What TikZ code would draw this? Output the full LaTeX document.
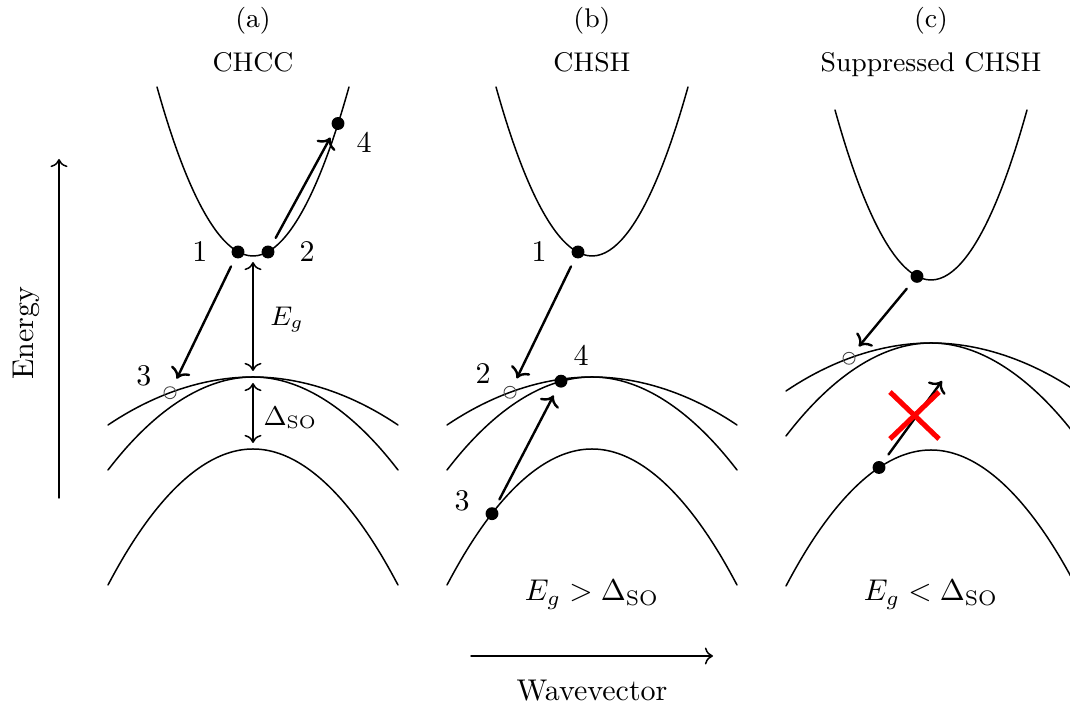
\documentclass[tikz,border=0pt]{standalone}
\usepackage{amsmath}
\usepackage{tikz}
\usetikzlibrary{arrows.meta, calc}

\begin{document}
\begin{tikzpicture}[
  x={(0.33333pt,0pt)}, y={(0pt,-0.33333pt)},
  line cap=round, line join=round,
  band/.style={line width=0.5pt},
  trans/.style={line width=0.8pt, ->, shorten <=3pt, shorten >=3pt},
  gap/.style={line width=0.5pt, <->, shorten <=2pt, shorten >=2pt},
  axis/.style={line width=0.5pt, ->},
  dot/.style={circle, fill, inner sep=0pt, minimum size=4.3pt},
  hole/.style={circle, draw=black!70, line width=0.3pt, inner sep=0pt, minimum size=4pt},
  num/.style={inner sep=0pt},
  block/.style={red, line width=1.7pt, line cap=butt}
]
  \useasboundingbox (0,0) rectangle (1070,708);

  % panel titles
  \node[anchor=base, font=\small] (ta) at (253,28) {(a)};
  \node[anchor=base, font=\small] (na) at (253,72) {CHCC};
  \node[anchor=base, font=\small] (tb) at (592,28) {(b)};
  \node[anchor=base, font=\small] (nb) at (592,72) {CHSH};
  \node[anchor=base, font=\small] (tc) at (931,28) {(c)};
  \node[anchor=base, font=\small] (nc) at (931,72) {Suppressed CHSH};

  % axes
  \coordinate (eLo) at (59,498);
  \coordinate (eHi) at (59,159);
  \draw[axis] (eLo) -- (eHi);
  \node[rotate=90, anchor=base] (elbl) at (33,333) {Energy};
  \coordinate (kLo) at (471,656);
  \coordinate (kHi) at (713,656);
  \draw[axis] (kLo) -- (kHi);
  \node[anchor=base] (klbl) at (592,701) {Wavevector};

  % (a) bands: conduction, two valence, split-off
  \draw[band] (157,87) parabola bend (253,256) (349,87);
  \draw[band] (108,425) parabola bend (253,377) (398,425);
  \draw[band] (108,470) parabola bend (253,377) (398,470);
  \draw[band] (108,585) parabola bend (253,449) (398,585);

  % (b) bands
  \draw[band] (496,87) parabola bend (592,256) (688,87);
  \draw[band] (447,425) parabola bend (592,377) (737,425);
  \draw[band] (447,470) parabola bend (592,377) (737,470);
  \draw[band] (447,585) parabola bend (592,449) (737,585);

  % (c) bands -- gap smaller than split-off energy
  \draw[band] (835,110) parabola bend (931,280) (1027,110);
  \draw[band] (786,391) parabola bend (931,343) (1076,391);
  \draw[band] (786,436) parabola bend (931,343) (1076,436);
  \draw[band] (786,586) parabola bend (931,450) (1076,586);

  % (a) gap and split-off arrows
  \coordinate (aC) at (253,256);
  \coordinate (aV) at (253,377);
  \coordinate (aS) at (253,449);
  \draw[gap] (aC) -- (aV);
  \draw[gap] (aV) -- (aS);
  \node[font=\small] (aEg) at (287,320) {$E_g$};
  \node[font=\small, anchor=west, inner sep=0pt] (aDso) at (263,418) {$\Delta_{\mathrm{SO}}$};

  % (a) carriers
  \node[dot]  (a1) at (238,252) {};
  \node[dot]  (a2) at (268,252) {};
  \node[hole] (a3) at (170,392.7) {};
  \node[dot]  (a4) at (338,123.5) {};
  \draw[trans] (a1) -- (a3);
  \draw[trans] (a2) -- (a4);
  \node[num, xshift=-12.7pt]             at (a1) {1};
  \node[num, xshift=13pt]                at (a2) {2};
  \node[num, xshift=-8.7pt, yshift=5.6pt] at (a3) {3};
  \node[num, xshift=8.7pt, yshift=-6.3pt] at (a4) {4};

  % (b) carriers
  \node[dot]  (b1) at (578,252) {};
  \node[hole] (b2) at (510,392.3) {};
  \node[dot]  (b3) at (492,513.7) {};
  \node[dot]  (b4) at (561,381.2) {};
  \draw[trans] (b1) -- (b2);
  \draw[trans] (b3) -- (b4);
  \node[num, xshift=-13pt]                at (b1) {1};
  \node[num, xshift=-9pt, yshift=6.3pt]   at (b2) {2};
  \node[num, xshift=-10pt, yshift=4.3pt]  at (b3) {3};
  \node[num, xshift=6.7pt, yshift=8.7pt]  at (b4) {4};

  % (c) carriers, hole transition blocked
  \node[dot]  (c1) at (917,276.4) {};
  \node[hole] (c2) at (849,358.3) {};
  \node[dot]  (c3) at (879,467.5) {};
  \coordinate (c4) at (942,381);
  \draw[trans] (c1) -- (c2);
  \draw[trans, shorten >=0pt] (c3) -- (c4);
  \coordinate (cX) at (914.5,415.5);
  \draw[block] (cX) ++(-24.5,-23.5) -- ++(49,47);
  \draw[block] (cX) ++(-24.5,23.5) -- ++(49,-47);

  % conditions
  \node[anchor=base] (condb) at (592,601) {$E_g > \Delta_{\mathrm{SO}}$};
  \node[anchor=base] (condc) at (931,601) {$E_g < \Delta_{\mathrm{SO}}$};
\end{tikzpicture}
\end{document}
